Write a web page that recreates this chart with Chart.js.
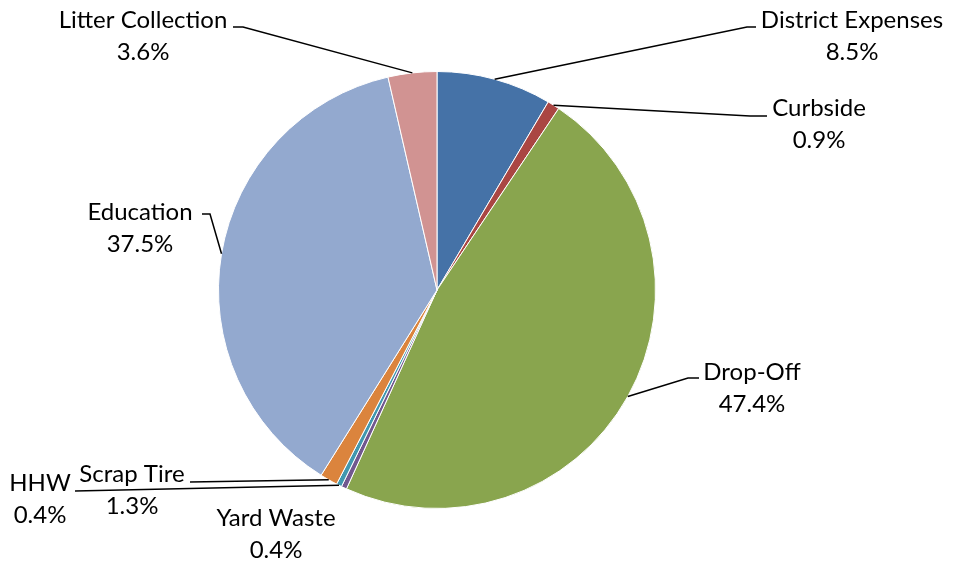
<!DOCTYPE html>
<html>
<head>
<meta charset="utf-8">
<title>Expenses by Program</title>
<script src="https://cdn.jsdelivr.net/npm/chart.js@4"></script>
<style>
    html, body { margin: 0; padding: 0; background: #ffffff; }
    canvas { display: block; }
</style>
</head>
<body>
<canvas id="expensePie" width="953" height="561"></canvas>
<script>
// Share of total expenses per program (percent)
const categories = ["District Expenses", "Curbside", "Drop-Off", "Yard Waste", "HHW", "Scrap Tire", "Education", "Litter Collection"];
const shares = [8.5, 0.9, 47.4, 0.4, 0.4, 1.3, 37.5, 3.6];
const sliceColors = ["#4572A7", "#AA4643", "#89A54E", "#71588F", "#4198AF", "#DB843D", "#93A9CF", "#D19392"];

// Where each label sits and the bends of its leader line (null = no line)
const labelSpots = [
    { x: 852, y: 20, path: [[747, 27], [756, 27]] },
    { x: 819, y: 108, path: [[750, 116], [767, 116]] },
    { x: 752, y: 372, path: [[688, 378], [699, 378]] },
    { x: 276, y: 518, path: null },
    { x: 40, y: 483, path: [[75, 491]] },
    { x: 132, y: 474, path: [[190, 482]] },
    { x: 140, y: 212, path: [[210, 214], [202, 214]] },
    { x: 143, y: 20, path: [[243, 27], [233, 27]] },
];

const lineGap = 32;

const calloutLabels = {
    id: "calloutLabels",
    afterDraw(chart) {
        const ctx = chart.ctx;
        const meta = chart.getDatasetMeta(0);
        ctx.save();
        ctx.strokeStyle = "#000000";
        ctx.lineWidth = 1.5;
        meta.data.forEach((arc, i) => {
            const spot = labelSpots[i];
            if (spot.path) {
                const mid = (arc.startAngle + arc.endAngle) / 2;
                const r = arc.outerRadius;
                ctx.beginPath();
                ctx.moveTo(arc.x + Math.cos(mid) * r, arc.y + Math.sin(mid) * r);
                spot.path.forEach(p => ctx.lineTo(p[0], p[1]));
                ctx.stroke();
            }
            ctx.fillStyle = "#000000";
            ctx.font = "24px Lato, 'Open Sans', sans-serif";
            ctx.textAlign = "center";
            ctx.textBaseline = "middle";
            ctx.fillText(categories[i], spot.x, spot.y);
            ctx.fillText(shares[i].toFixed(1) + "%", spot.x, spot.y + lineGap);
        });
        ctx.restore();
    }
};

new Chart(document.getElementById("expensePie"), {
    type: "pie",
    data: {
        labels: categories,
        datasets: [{
            data: shares,
            backgroundColor: sliceColors,
            borderColor: "#ffffff",
            borderWidth: 1,
        }],
    },
    options: {
        responsive: false,
        animation: false,
        layout: {
            padding: { left: 218, right: 297, top: 71, bottom: 52 },
        },
        plugins: {
            legend: { display: false },
            tooltip: { enabled: false },
        },
    },
    plugins: [calloutLabels],
});
</script>
</body>
</html>
